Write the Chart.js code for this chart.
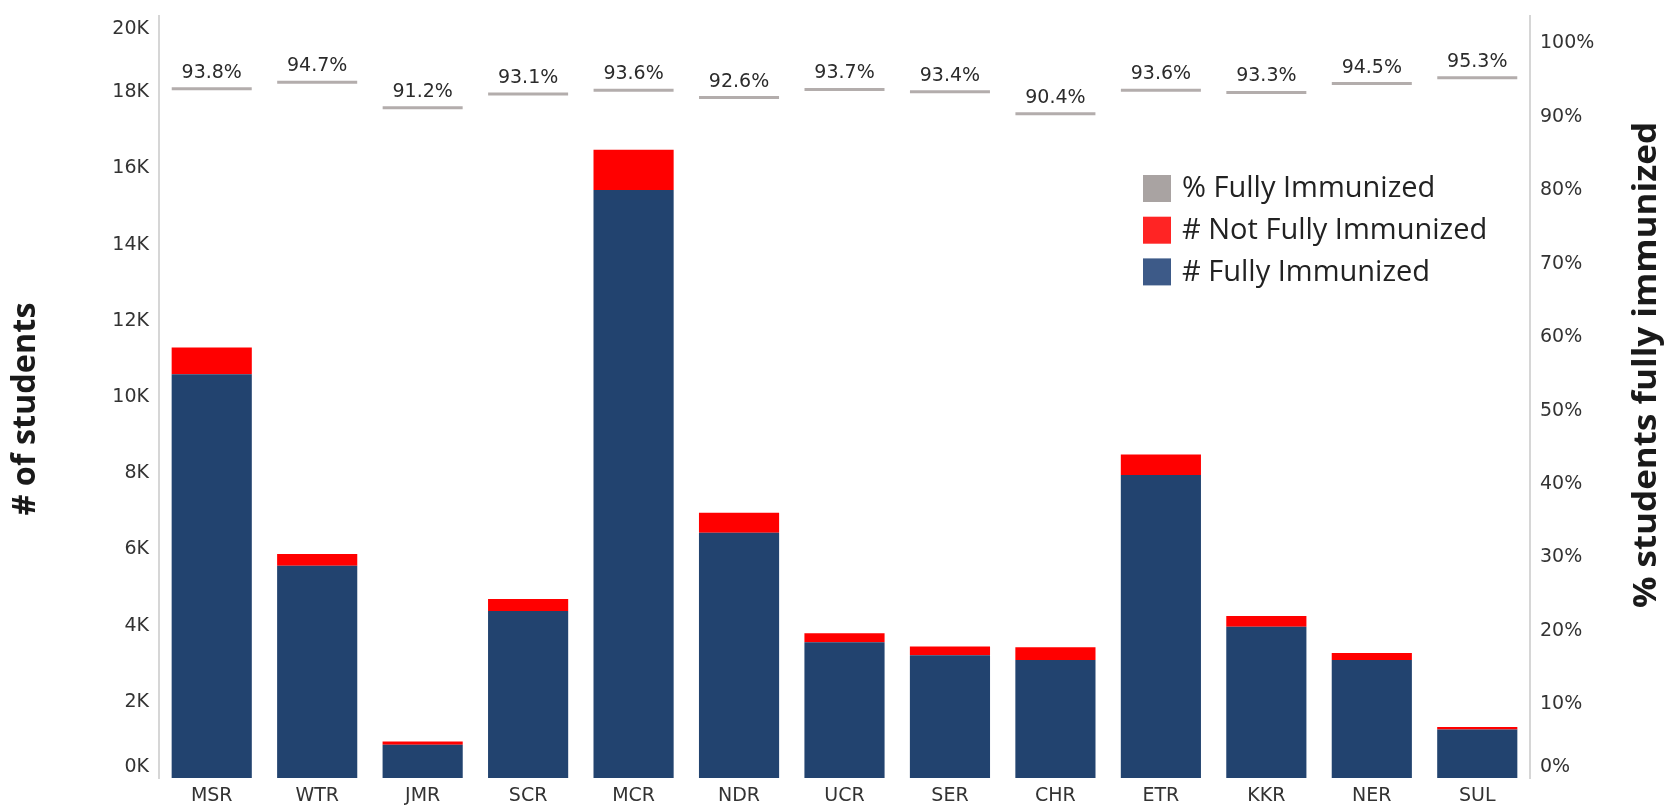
<!DOCTYPE html>
<html>
<head>
<meta charset="utf-8">
<script src="https://cdn.jsdelivr.net/npm/chart.js@4"></script>
<style>
  body { margin: 0; background: #fff; }
  #chart { display: block; }
</style>
</head>
<body>
<canvas id="chart" width="1669" height="806"></canvas>
<script>
const regions = ["MSR", "WTR", "JMR", "SCR", "MCR", "NDR", "UCR", "SER", "CHR", "ETR", "KKR", "NER", "SUL"];
const fullyImmunized = [10600, 5570, 875, 4380, 15430, 6440, 3560, 3220, 3100, 7950, 3970, 3100, 1275];
const notFullyImmunized = [700, 310, 85, 320, 1060, 520, 240, 230, 330, 540, 280, 180, 65];
const pctFullyImmunized = [93.8, 94.7, 91.2, 93.1, 93.6, 92.6, 93.7, 93.4, 90.4, 93.6, 93.3, 94.5, 95.3];

const legendItems = [
    { text: "% Fully Immunized", color: "#a9a3a2" },
    { text: "# Not Fully Immunized", color: "#ff2424" },
    { text: "# Fully Immunized", color: "#3d5a88" },
];

const tickFont = { family: "DejaVu Sans", size: 19 };

// fits a rotated bold title to the length it has in the picture
function drawTitle(ctx, text, cx, cy, length) {
    ctx.save();
    ctx.translate(cx, cy);
    ctx.rotate(-Math.PI / 2);
    ctx.font = "bold 32px 'Open Sans'";
    const w = ctx.measureText(text).width;
    ctx.scale(length / w, 1);
    ctx.fillStyle = "#1a1a1a";
    ctx.textAlign = "center";
    ctx.textBaseline = "middle";
    ctx.fillText(text, 0, 0);
    ctx.restore();
}

// vertical axes: fixed width, and don't let label padding push the plot down
function fitVertical(width) {
    return (scale) => {
        scale.width = width;
        scale.paddingTop = 10;
        scale.paddingBottom = 10;
    };
}

// keep the end tick labels inside the axis, like the original tool does
const clampEndLabels = {
    id: "clampEndLabels",
    beforeDraw(chart) {
        const area = chart.chartArea;
        ["y", "y1"].forEach((id) => {
            chart.scales[id].getLabelItems(area).forEach((item) => {
                const t = item.options.translation;
                t[1] = Math.min(Math.max(t[1], area.top + 13), area.bottom - 11);
            });
        });
    },
};

const extras = {
    id: "extras",
    afterDatasetsDraw(chart) {
        const ctx = chart.ctx;

        // % labels above the grey markers
        const meta = chart.getDatasetMeta(2);
        ctx.save();
        ctx.font = "19px 'DejaVu Sans'";
        ctx.fillStyle = "#2b2b2b";
        ctx.textAlign = "center";
        ctx.textBaseline = "alphabetic";
        meta.data.forEach((pt, i) => {
            ctx.fillText(pctFullyImmunized[i].toFixed(1) + "%", pt.x, pt.y - 11);
        });
        ctx.restore();

        // legend inside the plot
        ctx.save();
        ctx.font = "29px 'Open Sans'";
        ctx.textBaseline = "middle";
        legendItems.forEach((item, i) => {
            const top = 175 + i * 41.7;
            ctx.fillStyle = item.color;
            ctx.fillRect(1143, top, 28, 27);
            ctx.fillStyle = "#222";
            ctx.fillText(item.text, 1182, top + 14);
        });
        ctx.restore();

        drawTitle(ctx, "# of students", 26, 409, 213);
        drawTitle(ctx, "% students fully immunized", 1647, 365, 486);
    },
};

new Chart(document.getElementById("chart"), {
    type: "bar",
    data: {
        labels: regions,
        datasets: [
            {
                label: "# Fully Immunized",
                data: fullyImmunized,
                backgroundColor: "#22436f",
                yAxisID: "y",
                barPercentage: 0.76,
                categoryPercentage: 1,
            },
            {
                label: "# Not Fully Immunized",
                data: notFullyImmunized,
                backgroundColor: "#ff0000",
                yAxisID: "y",
                barPercentage: 0.76,
                categoryPercentage: 1,
            },
            {
                type: "line",
                label: "% Fully Immunized",
                data: pctFullyImmunized,
                yAxisID: "y1",
                showLine: false,
                pointStyle: "line",
                pointRadius: 40,
                pointHoverRadius: 40,
                pointBorderWidth: 3,
                pointBorderColor: "#b3adac",
                borderColor: "#b3adac",
                clip: false,
            },
        ],
    },
    options: {
        responsive: false,
        animation: false,
        layout: { autoPadding: false, padding: { top: 16, left: 0, right: 0, bottom: 0 } },
        plugins: {
            legend: { display: false },
            tooltip: { enabled: false },
        },
        scales: {
            x: {
                stacked: true,
                grid: { display: false, drawTicks: false },
                border: { display: false },
                ticks: { color: "#333", font: tickFont, padding: 7 },
                afterFit: (scale) => { scale.height = 28; },
            },
            y: {
                stacked: true,
                position: "left",
                min: 0,
                max: 20000,
                grid: { display: false, drawTicks: false },
                border: { display: true, color: "#d6d6d6", width: 2 },
                ticks: {
                    stepSize: 2000,
                    color: "#333",
                    font: tickFont,
                    padding: 10,
                    callback: (v) => v / 1000 + "K",
                },
                afterFit: fitVertical(159),
            },
            y1: {
                position: "right",
                min: 0,
                max: 103.7,
                grid: { display: false, drawTicks: false },
                border: { display: true, color: "#d6d6d6", width: 2 },
                ticks: {
                    stepSize: 10,
                    includeBounds: false,
                    color: "#333",
                    font: tickFont,
                    padding: 10,
                    callback: (v) => v + "%",
                },
                afterFit: fitVertical(139),
            },
        },
    },
    plugins: [clampEndLabels, extras],
});
</script>
</body>
</html>
